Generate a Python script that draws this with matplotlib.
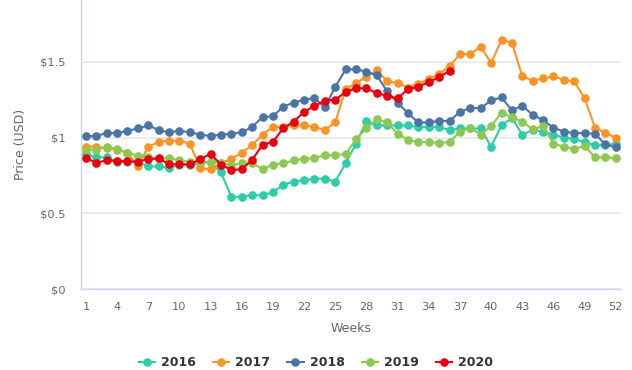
import matplotlib
matplotlib.use("Agg")
import matplotlib.pyplot as plt
from matplotlib.lines import Line2D

weeks = list(range(1, 53))
x_ticks = list(range(1, 53, 3))
y_ticks = [0, 0.5, 1, 1.5]
y_tick_labels = ["$0", "$0.5", "$1", "$1.5"]

s2016 = [0.89, 0.87, 0.87, 0.84, 0.84, 0.84, 0.81, 0.81, 0.80, 0.82,
         0.82, 0.83, 0.84, 0.77, 0.61, 0.61, 0.62, 0.62, 0.64, 0.69,
         0.71, 0.72, 0.73, 0.73, 0.71, 0.83, 0.96, 1.11, 1.08, 1.08,
         1.08, 1.08, 1.07, 1.07, 1.07, 1.05, 1.06, 1.06, 1.06, 0.94,
         1.08, 1.13, 1.02, 1.05, 1.04, 1.02, 1.00, 0.99, 0.97, 0.95, 0.95, 0.96]
s2017 = [0.94, 0.94, 0.93, 0.92, 0.90, 0.81, 0.94, 0.97, 0.98, 0.98,
         0.96, 0.80, 0.79, 0.83, 0.86, 0.90, 0.95, 1.02, 1.07, 1.07,
         1.08, 1.08, 1.07, 1.05, 1.10, 1.32, 1.36, 1.40, 1.445, 1.37,
         1.36, 1.33, 1.355, 1.385, 1.42, 1.47, 1.55, 1.55, 1.60, 1.49,
         1.645, 1.625, 1.405, 1.375, 1.39, 1.405, 1.38, 1.37, 1.26, 1.065, 1.03, 1.00]
s2018 = [1.01, 1.01, 1.03, 1.03, 1.045, 1.06, 1.08, 1.05, 1.035, 1.045,
         1.035, 1.02, 1.01, 1.02, 1.025, 1.035, 1.07, 1.135, 1.14, 1.205,
         1.23, 1.25, 1.26, 1.20, 1.335, 1.45, 1.45, 1.435, 1.41, 1.305,
         1.23, 1.16, 1.10, 1.10, 1.11, 1.11, 1.17, 1.195, 1.195, 1.245,
         1.265, 1.18, 1.21, 1.15, 1.115, 1.065, 1.04, 1.03, 1.03, 1.025, 0.955, 0.935]
s2019 = [0.92, 0.92, 0.94, 0.925, 0.90, 0.88, 0.87, 0.86, 0.865, 0.85,
         0.84, 0.84, 0.84, 0.83, 0.82, 0.83, 0.83, 0.795, 0.82, 0.83,
         0.85, 0.86, 0.865, 0.885, 0.885, 0.89, 0.99, 1.06, 1.12, 1.10,
         1.025, 0.985, 0.97, 0.97, 0.965, 0.97, 1.04, 1.065, 1.02, 1.075,
         1.165, 1.135, 1.105, 1.055, 1.075, 0.96, 0.94, 0.925, 0.945, 0.87, 0.87, 0.865]
s2020 = [0.865, 0.835, 0.85, 0.847, 0.843, 0.842, 0.858, 0.863, 0.824, 0.824,
         0.824, 0.857, 0.893, 0.822, 0.787, 0.791, 0.853, 0.953, 0.971, 1.063,
         1.105, 1.17, 1.208, 1.244, 1.25, 1.30, 1.325, 1.325, 1.293, 1.275,
         1.258, 1.32, 1.335, 1.366, 1.398, 1.44]

series_names = ["2016", "2017", "2018", "2019", "2020"]
series_values = [s2016, s2017, s2018, s2019, s2020]
colors = ["#2ecca8", "#fb9426", "#4a74a6", "#8dc853", "#e8000e"]

W, H = 632, 370
fig = plt.figure(figsize=(W / 100, H / 100), dpi=100)
ax = fig.add_axes([80.7 / W, 1 - 289.3 / H, (621 - 80.7) / W, 289.3 / H])

for name, vals, c in zip(series_names, series_values, colors):
    ax.plot(weeks[:len(vals)], vals, color=c, lw=1.5, marker="o", ms=6.2,
            markeredgewidth=0, label=name, zorder=3, solid_joinstyle="round")

ax.set_xlim(0.5, 52.5)
ax.set_ylim(0, 289.3 / 151.7)
ax.set_yticks(y_ticks)
ax.set_yticklabels(y_tick_labels)
ax.set_xticks(x_ticks)
ax.set_xticklabels([str(t) for t in x_ticks])
ax.tick_params(axis="both", length=0, labelsize=8.2, labelcolor="#666666")
ax.tick_params(axis="y", pad=11)
ax.tick_params(axis="x", pad=9)
ax.grid(axis="y", color="#e6e6e6", lw=1.1, zorder=0)
ax.grid(axis="x", visible=False)
for side in ["top", "right"]:
    ax.spines[side].set_visible(False)
ax.spines["bottom"].set_color("#ccd6eb")
ax.spines["left"].set_color("#ccd6eb")
ax.spines["bottom"].set_linewidth(1)
ax.spines["left"].set_linewidth(1)
ax.set_xlabel("Weeks", fontsize=9, color="#666666", labelpad=7)
ax.set_ylabel("Price (USD)", fontsize=9, color="#666666", labelpad=9)

handles = [Line2D([0], [0], color=c, lw=1.5, marker="o", ms=6.2, markeredgewidth=0)
           for c in colors]
fig.legend(handles, series_names, loc="center", bbox_to_anchor=(0.5, 1 - 363 / H),
           ncol=5, frameon=False, prop={"size": 9, "weight": "bold"},
           labelcolor="#333333", handlelength=1.3, handletextpad=0.5,
           columnspacing=1.35)

fig.savefig("out.png", dpi=100)
